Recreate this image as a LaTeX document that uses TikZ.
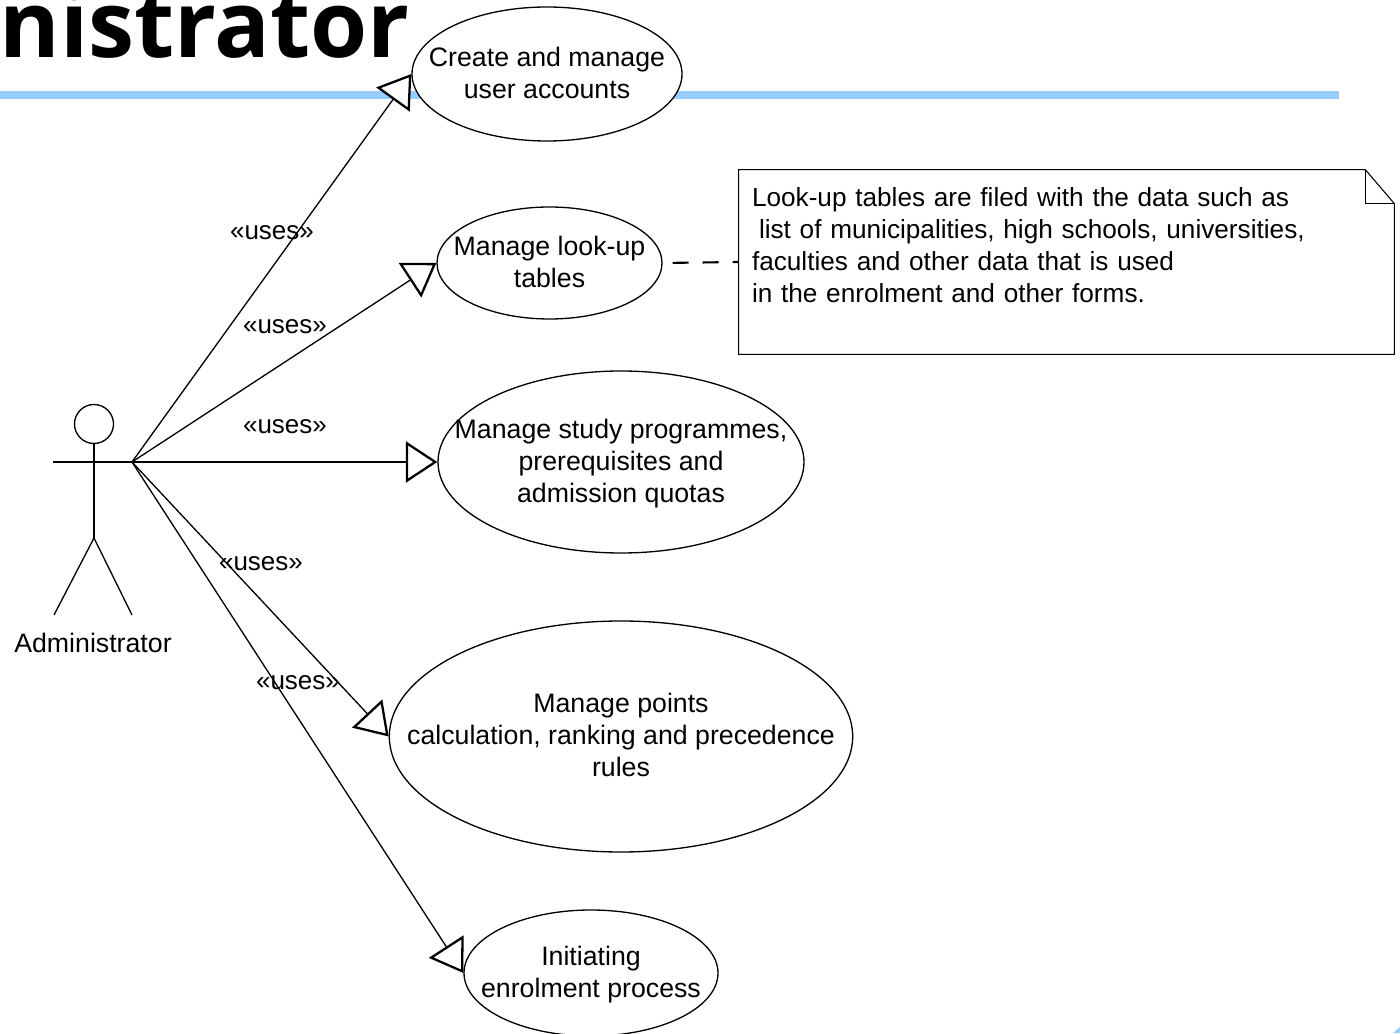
\documentclass[tikz,border=0pt]{standalone}
\usepackage{fontspec}
\setmainfont{Liberation Sans}
\newfontfamily\titlefont{Open Sans}
\usetikzlibrary{shapes,arrows.meta,positioning,calc}
\definecolor{barblue}{HTML}{99CCFF}
\newcommand{\liftlabel}[1]{\rule[-#1]{0pt}{#1}}
\newcommand{\droplabel}[1]{\rule{0pt}{#1}}
\tikzset{
    usecase/.style={draw, ellipse, fill=white, line width=0.75pt, inner sep=-1cm, align=center},
    useslabel/.style={inner sep=0pt, font=\fontsize{14.8}{18}\selectfont},
    usesline/.style={line width=0.75pt, -{Triangle[fill=white, length=0.63cm, width=0.82cm, line width=1.3pt]}},
    stick/.style={line width=0.75pt},
    notebox/.style={minimum width=13.1cm, minimum height=3.68cm, text width=12.58cm, inner sep=0.26cm, align=left, font=\fontsize{14.9}{18.2}\selectfont}
}

\begin{document}
\begin{tikzpicture}[font=\fontsize{15.2}{18.2}\selectfont]

\useasboundingbox (0,0) rectangle (28,20.66);

% Slide title and rule
\node[anchor=base east, inner sep=0pt, font=\fontsize{52.6}{60}\titlefont\bfseries] (title) at (8.2,19.5) {nistrator};
\fill[barblue] (0,18.68) rectangle (26.78,18.84);
\fill[barblue] (27.86,0) -- (28,0) -- (28,0.12) -- cycle;

% Use cases
\node[usecase, minimum width=5.4cm, minimum height=2.68cm] (accounts) at (10.94,19.18) {Create and manage\\user accounts\liftlabel{0.04cm}};
\node[usecase, minimum width=4.5cm, minimum height=2.24cm] (lookup) at (10.99,15.40) {Manage look-up\\tables\liftlabel{0.04cm}};
\node[usecase, minimum width=7.32cm, minimum height=3.64cm] (programmes) at (12.42,11.42) {\droplabel{0.47cm}Manage study programmes,\\prerequisites and\\admission quotas};
\node[usecase, minimum width=9.24cm, minimum height=4.62cm] (points) at (12.42,5.93) {Manage points\\calculation, ranking and precedence\\rules\liftlabel{0.06cm}};
\node[usecase, minimum width=5.08cm, minimum height=2.52cm] (enrolment) at (11.82,1.20) {\droplabel{0.47cm}Initiating\\enrolment process};

% Actor
\node[draw, circle, stick, minimum size=0.78cm, inner sep=0pt] (head) at (1.88,12.18) {};
\coordinate (waist) at (1.88,9.90);
\coordinate (handl) at (1.06,11.42);
\coordinate (hand) at (2.64,11.42);
\coordinate (footl) at (1.08,8.36);
\coordinate (footr) at (2.64,8.36);
\draw[stick] (head.south) -- (waist);
\draw[stick] (handl) -- (hand);
\draw[stick] (footl) -- (waist) -- (footr);
\node (admin) at (1.86,7.80) {Administrator};

% Uses relations
\foreach \target in {accounts, lookup, programmes, points, enrolment} {
    \draw[usesline] (hand) -- (\target.west);
}
\foreach \x/\y in {5.44/16.00, 5.70/14.12, 5.70/12.12, 5.22/9.38, 5.96/7.00} {
    \node[useslabel] at (\x,\y) {«uses»};
}

% Note
\node[notebox] (note) at (21.33,15.42) {Look-up tables are filed with the data such as\\
    \hspace*{0.14cm}list of municipalities, high schools, universities,\\
    faculties and other data that is used\\
    in the enrolment and other forms.\\
    ~\liftlabel{0.04cm}};
\draw[line width=0.6pt] (note.north west) -- ($(note.north east)+(-0.58,0)$) -- ($(note.north east)+(0,-0.68)$) -- (note.south east) -- (note.south west) -- cycle;
\draw[line width=0.75pt] ($(note.north east)+(-0.58,0)$) -- ($(note.north east)+(-0.58,-0.68)$) -- ($(note.north east)+(0,-0.68)$);
\draw[line width=1.2pt, dash pattern=on 0.32cm off 0.28cm, dash phase=0.4cm] (lookup.east) -- (note.west);

\end{tikzpicture}
\end{document}
